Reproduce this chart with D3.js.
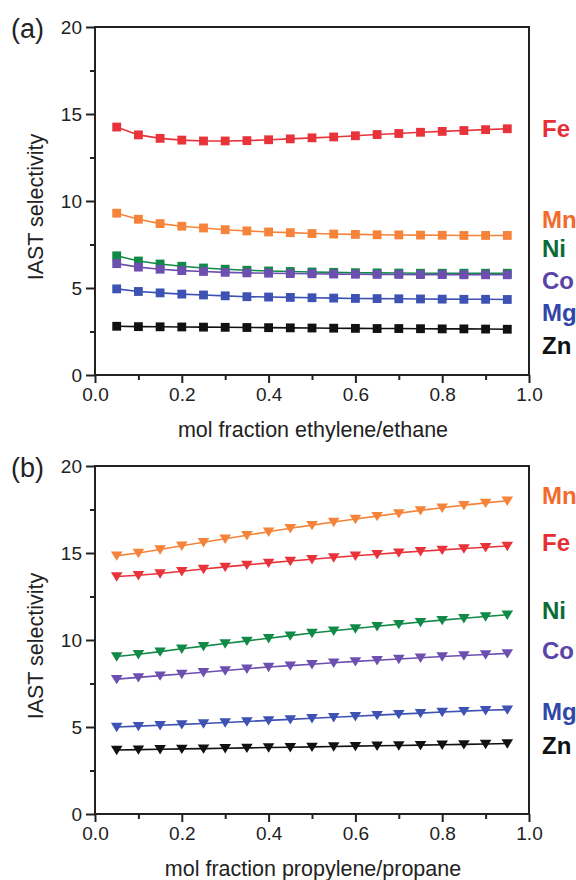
<!DOCTYPE html>
<html lang="en">
<head>
<meta charset="utf-8">
<title>IAST selectivity</title>
<script src="https://cdn.jsdelivr.net/npm/d3@7"></script>
<style>
  body { margin: 0; background: #fff; }
  svg text { font-family: "Liberation Sans", Arial, sans-serif; }
</style>
</head>
<body>
<script>
// mol fraction points, same for both panels
var xVals = [0.05, 0.10, 0.15, 0.20, 0.25, 0.30, 0.35, 0.40, 0.45, 0.50,
             0.55, 0.60, 0.65, 0.70, 0.75, 0.80, 0.85, 0.90, 0.95];

// panel (a): ethylene/ethane
var aFe = [14.25, 13.8, 13.6, 13.5, 13.45, 13.45, 13.47, 13.52, 13.57, 13.63, 13.68, 13.75, 13.82, 13.88, 13.95, 14.0, 14.05, 14.1, 14.15];
var aMn = [9.3, 8.95, 8.7, 8.55, 8.45, 8.35, 8.28, 8.22, 8.18, 8.13, 8.1, 8.08, 8.06, 8.05, 8.04, 8.03, 8.02, 8.02, 8.02];
var aNi = [6.85, 6.55, 6.38, 6.25, 6.15, 6.08, 6.02, 5.98, 5.95, 5.92, 5.9, 5.88, 5.87, 5.86, 5.85, 5.85, 5.85, 5.85, 5.85];
var aCo = [6.4, 6.2, 6.08, 6.0, 5.95, 5.9, 5.87, 5.85, 5.83, 5.82, 5.8, 5.79, 5.78, 5.78, 5.77, 5.77, 5.76, 5.76, 5.76];
var aMg = [4.95, 4.8, 4.72, 4.65, 4.6, 4.55, 4.5, 4.48, 4.46, 4.44, 4.42, 4.4, 4.39, 4.38, 4.37, 4.36, 4.35, 4.35, 4.34];
var aZn = [2.8, 2.78, 2.77, 2.76, 2.75, 2.74, 2.73, 2.72, 2.71, 2.7, 2.69, 2.68, 2.67, 2.67, 2.66, 2.65, 2.65, 2.64, 2.63];

// panel (b): propylene/propane
var bFe = [13.65, 13.72, 13.82, 13.95, 14.08, 14.2, 14.32, 14.43, 14.54, 14.64, 14.74, 14.84, 14.93, 15.02, 15.1, 15.18, 15.26, 15.33, 15.4];
var bMn = [14.85, 15.0, 15.2, 15.42, 15.62, 15.82, 16.02, 16.22, 16.42, 16.6, 16.78, 16.95, 17.12, 17.28, 17.45, 17.6, 17.75, 17.88, 18.0];
var bNi = [9.05, 9.18, 9.33, 9.5, 9.65, 9.8, 9.95, 10.1, 10.25, 10.4, 10.53, 10.66, 10.79, 10.91, 11.03, 11.14, 11.25, 11.35, 11.45];
var bCo = [7.75, 7.85, 7.95, 8.05, 8.15, 8.25, 8.35, 8.45, 8.53, 8.61, 8.69, 8.77, 8.84, 8.91, 8.98, 9.05, 9.11, 9.17, 9.23];
var bMg = [5.0, 5.05, 5.1, 5.15, 5.2, 5.26, 5.32, 5.38, 5.44, 5.5, 5.56, 5.62, 5.68, 5.74, 5.8, 5.86, 5.91, 5.96, 6.0];
var bZn = [3.68, 3.7, 3.72, 3.74, 3.76, 3.78, 3.8, 3.82, 3.84, 3.86, 3.88, 3.9, 3.92, 3.94, 3.96, 3.98, 4.0, 4.02, 4.05];

var metals = ["Fe", "Mn", "Ni", "Co", "Mg", "Zn"];
// where each metal name sits on the right (y value in data units), same order as metals
var aLabelY = [14.2, 8.97, 7.3, 5.46, 3.62, 1.72];
var bLabelY = [15.6, 18.3, 11.7, 9.4, 5.9, 3.97];

var xTicks = [0, 0.2, 0.4, 0.6, 0.8, 1.0];
var yTicks = [0, 5, 10, 15, 20];

var lineColor = { Fe: "#e8333b", Mn: "#f5843a", Ni: "#128a47", Co: "#6d4fb0", Mg: "#3d52b3", Zn: "#111111" };
var textColor = { Fe: "#e52e36", Mn: "#f26b2d", Ni: "#0b6b35", Co: "#5a44a8", Mg: "#3147a8", Zn: "#111111" };

var w = 576, h = 880;
var svg = d3.select("body").append("svg")
  .attr("width", w)
  .attr("height", h);

function drawPanel(top, tag, xTitle, series, labelY, marker) {
  var left = 95, right = 529, bottom = top + 348;

  var x = d3.scaleLinear().domain([0, 1]).range([left, right]);
  var y = d3.scaleLinear().domain([0, 20]).range([bottom, top]);

  var g = svg.append("g");

  // frame
  g.append("rect")
    .attr("x", left).attr("y", top)
    .attr("width", right - left).attr("height", bottom - top)
    .attr("fill", "none").attr("stroke", "#222").attr("stroke-width", 2);

  // x axis, major + minor ticks
  g.append("g")
    .attr("transform", "translate(0," + bottom + ")")
    .call(d3.axisBottom(x).tickValues(xTicks).tickFormat(d3.format(".1f")).tickSize(8).tickPadding(5));
  g.append("g")
    .attr("transform", "translate(0," + bottom + ")")
    .call(d3.axisBottom(x).tickValues(d3.range(0.1, 1, 0.2)).tickFormat("").tickSize(5));

  g.append("g")
    .attr("transform", "translate(" + left + ",0)")
    .call(d3.axisLeft(y).tickValues(yTicks).tickSize(9).tickPadding(4));
  g.append("g")
    .attr("transform", "translate(" + left + ",0)")
    .call(d3.axisLeft(y).tickValues([2.5, 7.5, 12.5, 17.5]).tickFormat("").tickSize(5));

  g.selectAll(".domain").remove();
  g.selectAll(".tick line").attr("stroke", "#222").attr("stroke-width", 2);
  g.selectAll(".tick text").attr("fill", "#222").style("font-size", "19px");

  // axis titles
  g.append("text")
    .attr("x", (left + right) / 2 + 1).attr("y", bottom + 62)
    .attr("text-anchor", "middle")
    .style("font-size", "21.5px").attr("fill", "#222")
    .text(xTitle);

  g.append("text")
    .attr("transform", "translate(43," + ((top + bottom) / 2 + 6) + ") rotate(-90)")
    .attr("text-anchor", "middle")
    .style("font-size", "21.5px").attr("fill", "#222")
    .text("IAST selectivity");

  g.append("text")
    .attr("x", 11).attr("y", top + 11)
    .style("font-size", "27px").attr("fill", "#222")
    .text(tag);

  var line = d3.line()
    .x(function(d, i) { return x(xVals[i]); })
    .y(function(d) { return y(d); });

  series.forEach(function(s, k) {
    var name = metals[k];
    g.append("path")
      .datum(s)
      .attr("d", line)
      .attr("fill", "none")
      .attr("stroke", lineColor[name])
      .attr("stroke-width", 1.6);

    g.selectAll(".m" + name)
      .data(s)
      .enter()
      .append("path")
      .attr("transform", function(d, i) { return "translate(" + x(xVals[i]) + "," + y(d) + ")"; })
      .attr("d", marker)
      .attr("fill", lineColor[name]);

    g.append("text")
      .attr("x", 542).attr("y", y(labelY[k]))
      .attr("dy", "0.36em")
      .style("font-size", "24px").style("font-weight", "bold")
      .attr("fill", textColor[name])
      .text(name);
  });
}

var square = d3.symbol().type(d3.symbolSquare).size(78)();
var triangle = "M-5.8,-4.2L5.8,-4.2L0,5.2Z";

drawPanel(27, "(a)", "mol fraction ethylene/ethane",
  [aFe, aMn, aNi, aCo, aMg, aZn], aLabelY, square);
drawPanel(466, "(b)", "mol fraction propylene/propane",
  [bFe, bMn, bNi, bCo, bMg, bZn], bLabelY, triangle);
</script>
</body>
</html>
